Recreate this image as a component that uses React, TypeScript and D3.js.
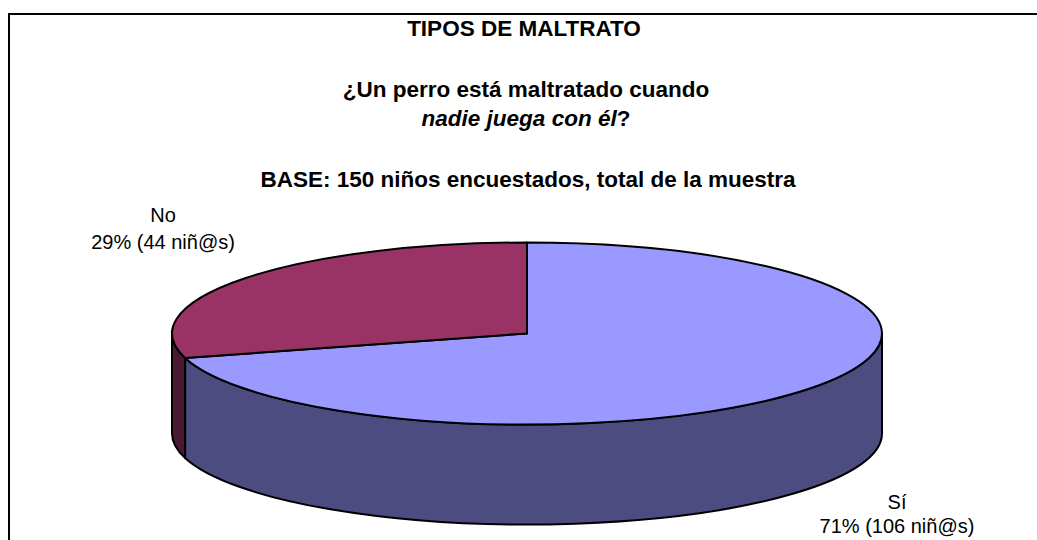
import React, { useEffect } from "react";
import * as d3 from "d3";

const categories = ["Sí", "No"];
const values = [106, 44];
const percentLabels = ["71%", "29%"];
const topColors = ["#9999FF", "#993366"];
const sideColors = ["#4C4C80", "#4C1933"];
const titleLines = ["TIPOS DE MALTRATO", "¿Un perro está maltratado cuando", "nadie juega con él", "BASE: 150 niños encuestados, total de la muestra"];

const W = 1037;
const H = 540;
const cx = 527;
const cy = 333.5;
const rx = 355;
const ry = 91;
const depth = 100;

function pt(a: number, dy = 0): [number, number] {
  return [cx + rx * Math.sin(a), cy - ry * Math.cos(a) + dy];
}

export default function App() {
  useEffect(() => {
    document.documentElement.style.overflow = "hidden";
    document.body.style.overflow = "hidden";
  }, []);

  const pie = d3.pie<number>().sort(null).value((d) => d);
  const arcs = pie(values);

  const tops = arcs.map((a) => {
    const [x0, y0] = pt(a.startAngle);
    const [x1, y1] = pt(a.endAngle);
    const large = a.endAngle - a.startAngle > Math.PI ? 1 : 0;
    return `M${cx},${cy}L${x0},${y0}A${rx},${ry} 0 ${large} 1 ${x1},${y1}Z`;
  });

  const sides = arcs.map((a) => {
    const s = Math.max(a.startAngle, Math.PI / 2);
    const e = Math.min(a.endAngle, (3 * Math.PI) / 2);
    if (e <= s) return null;
    const [x0, y0] = pt(s);
    const [x1, y1] = pt(e);
    const [x2, y2] = pt(e, depth);
    const [x3, y3] = pt(s, depth);
    const large = e - s > Math.PI ? 1 : 0;
    return `M${x0},${y0}A${rx},${ry} 0 ${large} 1 ${x1},${y1}L${x2},${y2}A${rx},${ry} 0 ${large} 0 ${x3},${y3}Z`;
  });

  const font = "'Liberation Sans', Arial, sans-serif";
  const labelPos: [number, number][] = [
    [897, 509],
    [163, 222],
  ];

  return (
    <div style={{ position: "absolute", left: 0, top: 0, width: W, height: H, overflow: "hidden" }}>
      <svg width={W} height={H} style={{ display: "block", background: "#fff" }}>
        <path d={`M9,${H + 5}V14H${W + 5}`} fill="none" stroke="#000" strokeWidth={2} />
        <g fontFamily={font} fontWeight="bold" fontSize={22.5} textAnchor="middle" fill="#000">
          <text x={524} y={36}>{titleLines[0]}</text>
          <text x={526} y={97}>{titleLines[1]}</text>
          <text x={526} y={126}>
            <tspan fontStyle="italic">{titleLines[2]}</tspan>
            <tspan>?</tspan>
          </text>
          <text x={528} y={187}>{titleLines[3]}</text>
        </g>
        <g stroke="#000" strokeWidth={2} strokeLinejoin="round">
          {sides.map((d, i) => (d ? <path key={"s" + i} d={d} fill={sideColors[i]} /> : null))}
          {tops.map((d, i) => (
            <path key={"t" + i} d={d} fill={topColors[i]} />
          ))}
        </g>
        <g fontFamily={font} fontSize={20} textAnchor="middle" fill="#000">
          {categories.map((c, i) => (
            <g key={c}>
              <text x={labelPos[i][0]} y={labelPos[i][1]}>{c}</text>
              <text x={labelPos[i][0]} y={labelPos[i][1] + (i === 0 ? 24 : 27)}>
                {`${percentLabels[i]} (${values[i]} niñ@s)`}
              </text>
            </g>
          ))}
        </g>
      </svg>
    </div>
  );
}
